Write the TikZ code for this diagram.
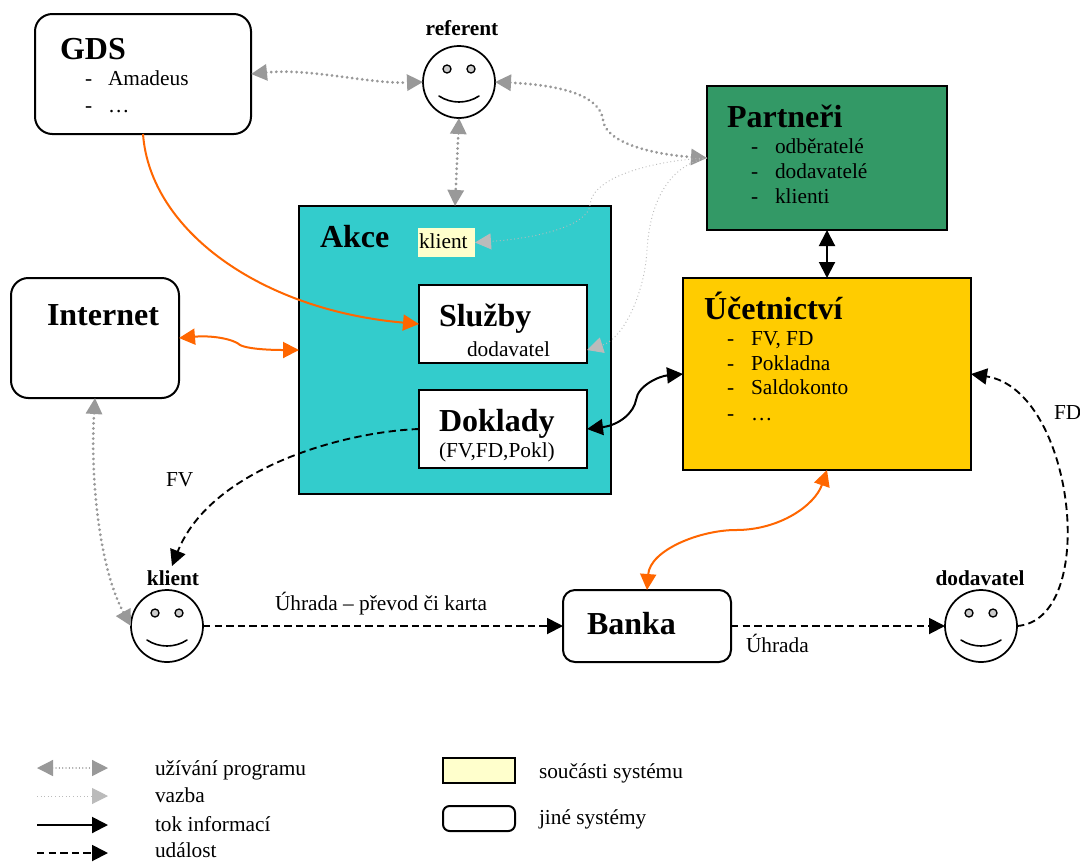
\documentclass[tikz,border=0pt]{standalone}
\usepackage{fontspec}
\setmainfont{Liberation Serif}
\usetikzlibrary{arrows.meta,calc}
\def\u{0.75pt}
\newcommand{\bigb}{\fontsize{24}{28}\selectfont\bfseries}
\newcommand{\body}{\fontsize{16}{19}\selectfont}
\newcommand{\lab}{\fontsize{16}{19}\selectfont\bfseries}
\tikzset{
  sys/.style={draw=black,line width=1.5pt,inner sep=0pt,outer sep=0pt},
  other/.style={sys,fill=white,rounded corners=13pt},
  txt/.style={anchor=base west,inner sep=0pt,outer sep=0pt},
  heading/.style={txt,font=\bigb},
  plain/.style={txt,font=\body},
  face/.style={draw=black,line width=1.3pt,circle,fill=white,minimum size=72*\u,inner sep=0pt,outer sep=0pt},
  use/.style={draw=gray60,line width=2.3pt,line cap=round,dash pattern=on 0.01pt off 3.8pt,{Triangle[length=12pt,width=12pt,fill=gray60]}-{Triangle[length=12pt,width=12pt,fill=gray60]}},
  link/.style={draw=gray75,line width=0.7pt,dotted,-{Triangle[length=12pt,width=12pt,fill=gray75]}},
  orangeflow/.style={draw=flow,line width=1.5pt,{Triangle[length=12pt,width=12pt]}-{Triangle[length=12pt,width=12pt]}},
  orangeone/.style={draw=flow,line width=1.5pt,-{Triangle[length=12pt,width=12pt]}},
  info/.style={draw=black,line width=1.5pt,{Triangle[length=12pt,width=12pt]}-{Triangle[length=12pt,width=12pt]}},
  infoone/.style={draw=black,line width=1.5pt,-{Triangle[length=12pt,width=12pt]}},
  event/.style={draw=black,line width=1.4pt,dash pattern=on 5.5pt off 3.2pt,-{Triangle[length=12pt,width=12pt]}},
}
\definecolor{gray60}{HTML}{999999}
\definecolor{gray75}{HTML}{BBBBBB}
\definecolor{flow}{HTML}{FF6600}
\definecolor{partner}{HTML}{339966}
\definecolor{akcecol}{HTML}{33CCCC}
\definecolor{acc}{HTML}{FFCC00}
\definecolor{lightyellow}{HTML}{FFFFCC}
\newcommand{\smiley}[5]{%
  \node[face] (#1) at (#2,#3) {};
  \node[draw=black,line width=1pt,fill=black!20,circle,minimum size=8*\u,inner sep=0pt] (#1eyeL) at (#2-12,#3-13) {};
  \node[draw=black,line width=1pt,fill=black!20,circle,minimum size=8*\u,inner sep=0pt] (#1eyeR) at (#2+12,#3-13) {};
  \draw[line width=1.2pt,line cap=round] (#2-20,#3+14) .. controls (#2-8,#3+22) and (#2+8,#3+22) .. (#2+20,#3+14);
  \node[anchor=base,inner sep=0pt,font=\lab] (#1label) at (#2+#4,#3+#5) {#1};
}
\begin{document}
\begin{tikzpicture}[x=0.75pt,y=-0.75pt]
\useasboundingbox (0,0) rectangle (1080,861);
\fill[white] (0,0) rectangle (1080,861);

% boxes
\node[other,minimum width=216*\u,minimum height=120*\u] (gds) at (143,74) {};
\node[sys,fill=partner,minimum width=240*\u,minimum height=144*\u] (partneri) at (827,158) {};
\node[sys,fill=akcecol,minimum width=312*\u,minimum height=288*\u] (akce) at (455,350) {};
\node[fill=lightyellow,inner sep=0pt,outer sep=0pt,minimum width=57*\u,minimum height=29*\u] (klientbox) at (446.5,242.5) {};
\node[sys,fill=white,minimum width=168*\u,minimum height=78*\u] (sluzby) at (503,324) {};
\node[sys,fill=white,minimum width=168*\u,minimum height=78*\u] (doklady) at (503,429) {};
\node[other,minimum width=168*\u,minimum height=120*\u] (internet) at (95,338) {};
\node[sys,fill=acc,minimum width=288*\u,minimum height=192*\u] (ucet) at (827,374) {};
\node[other,rounded corners=9pt,minimum width=168*\u,minimum height=72*\u] (banka) at (647,626) {};

\smiley{referent}{459}{82}{3}{-47}
\smiley{klient}{167}{626}{6}{-41}
\smiley{dodavatel}{981}{626}{-1}{-41}

% box texts
\node[heading] (tgds) at (60,59) {GDS};
\node[plain] (d1) at (85,85) {-};
\node[plain] (t1) at (108,85) {Amadeus};
\node[plain] (d2) at (85,112) {-};
\node[plain] (t2) at (108,112) {…};
\node[heading] (tpart) at (727,127) {Partneři};
\node[plain] (d3) at (751,153) {-};
\node[plain] (t3) at (775,153) {odběratelé};
\node[plain] (d4) at (751,178) {-};
\node[plain] (t4) at (775,178) {dodavatelé};
\node[plain] (d5) at (751,203) {-};
\node[plain] (t5) at (775,203) {klienti};
\node[heading] (takce) at (320,247) {Akce};
\node[plain] (tklient) at (419,248) {klient};
\node[heading] (tsl) at (439,326) {Služby};
\node[plain] (tdod) at (467,356) {dodavatel};
\node[heading] (tdok) at (439,431) {Doklady};
\node[plain] (tfv) at (439,457) {(FV,FD,Pokl)};
\node[heading] (tint) at (47,325) {Internet};
\node[heading] (tuc) at (704,319) {Účetnictví};
\node[plain] (d6) at (727,345) {-};
\node[plain] (t6) at (751,345) {FV, FD};
\node[plain] (d7) at (727,370) {-};
\node[plain] (t7) at (751,370) {Pokladna};
\node[plain] (d8) at (727,394) {-};
\node[plain] (t8) at (751,394) {Saldokonto};
\node[plain] (d9) at (727,420) {-};
\node[plain] (t9) at (751,420) {…};
\node[heading] (tbanka) at (587,634) {Banka};

% connector labels
\node[plain] (lfv) at (166,486) {FV};
\node[plain] (lfd) at (1054,419) {FD};
\node[plain] (luh1) at (275,610) {Úhrada – převod či karta};
\node[plain] (luh2) at (746,652) {Úhrada};

% free ends
\coordinate (sluzbyin) at (587,350);
\coordinate (klientdown) at (172,566);

% connectors
\draw[use] (gds.east) .. controls (310,68) and (370,84) .. (referent.west);
\draw[use] (referent.east) .. controls (560,85) and (600,95) .. (603,120) .. controls (606,145) and (660,155) .. (partneri.west);
\draw[use] (referent.south) -- (akce.north);
\draw[use] (internet.south) .. controls (90,480) and (100,570) .. (klient.west);
\draw[link] (partneri.west) .. controls (660,160) and (592,175) .. (590,205) .. controls (588,225) and (540,238) .. (klientbox.east);
\draw[link] (partneri.west) .. controls (670,165) and (650,200) .. (647,250) .. controls (645,290) and (625,338) .. (sluzbyin);
\draw[orangeone] (gds.south) .. controls (150,230) and (260,310) .. (sluzby.west);
\draw[orangeflow] (internet.east) .. controls (215,335) and (235,340) .. (240,345) .. controls (250,350) and (280,350) .. (akce.west);
\draw[orangeflow] (ucet.south) .. controls (815,505) and (780,530) .. (736,530) .. controls (700,530) and (650,550) .. (banka.north);
\draw[info] (doklady.east) .. controls (620,425) and (634,412) .. (636,400) .. controls (638,385) and (660,376) .. (ucet.west);
\draw[info] (partneri.south) -- (ucet.north);
\draw[event] (doklady.west) .. controls (340,432) and (210,470) .. (klientdown);
\draw[event] (klient.east) -- (banka.west);
\draw[event] (banka.east) -- (dodavatel.west);
\draw[event] (dodavatel.east) .. controls (1100,620) and (1075,390) .. (ucet.east);

% legend
\coordinate (l1a) at (37,768); \coordinate (l1b) at (108,768);
\coordinate (l2a) at (37,796); \coordinate (l2b) at (108,796);
\coordinate (l3a) at (37,825); \coordinate (l3b) at (108,825);
\coordinate (l4a) at (37,853); \coordinate (l4b) at (108,853);
\draw[use,line width=1pt,dash pattern=on 0.01pt off 2.5pt] (l1a) -- (l1b);
\draw[link] (l2a) -- (l2b);
\draw[infoone] (l3a) -- (l3b);
\draw[event] (l4a) -- (l4b);
\node[plain] (k1) at (155,775) {užívání programu};
\node[plain] (k2) at (155,802) {vazba};
\node[plain] (k3) at (155,831) {tok informací};
\node[plain] (k4) at (155,857) {událost};
\node[sys,fill=lightyellow,minimum width=72*\u,minimum height=25*\u] (k5box) at (479,770.5) {};
\node[other,rounded corners=5pt,minimum width=72*\u,minimum height=25*\u] (k6box) at (479,818.5) {};
\node[plain] (k5) at (539,778) {součásti systému};
\node[plain] (k6) at (539,824) {jiné systémy};
\end{tikzpicture}
\end{document}
